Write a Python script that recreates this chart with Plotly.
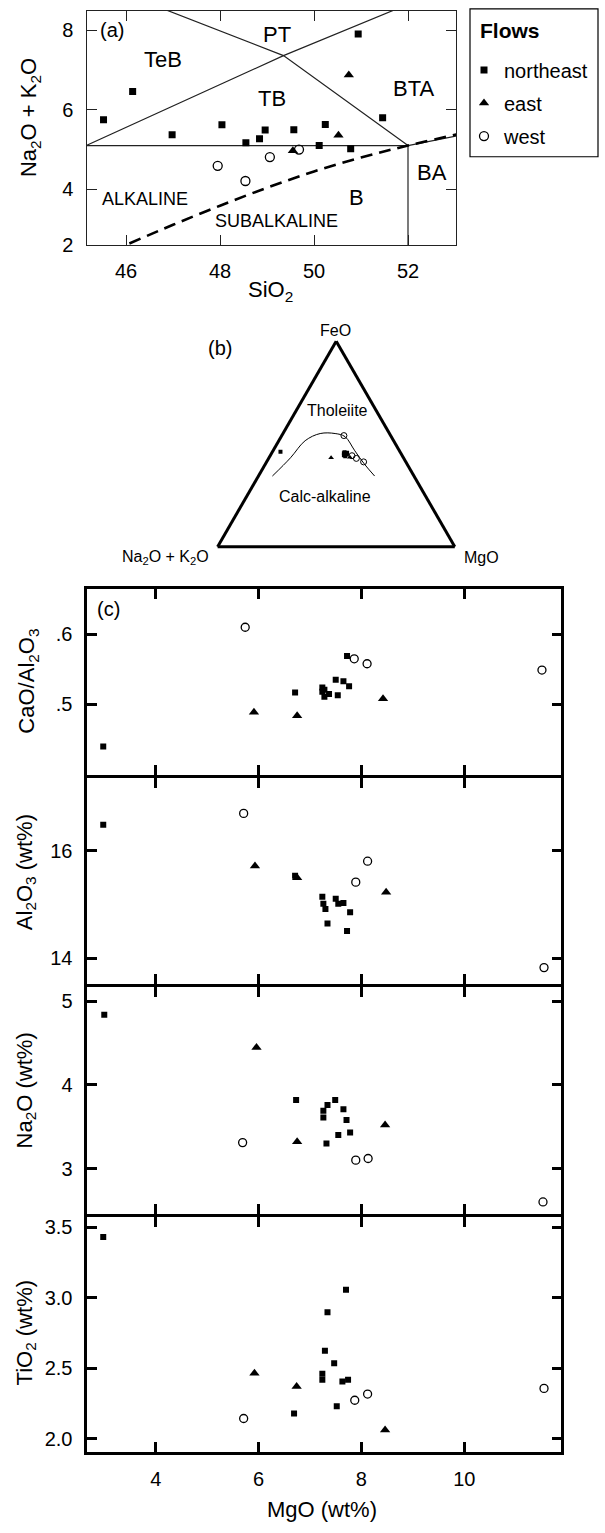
import plotly.graph_objects as go

FONT = "Liberation Sans, Arial, sans-serif"
W, H = 605, 1533

# ---------------- Panel (a): TAS diagram ----------------
tas_ne_sio2 = [45.52, 46.14, 46.98, 48.04, 48.55, 48.84, 48.96, 49.57, 50.11, 50.24, 50.78, 51.46, 50.94]
tas_ne_alk = [5.75, 6.46, 5.37, 5.62, 5.17, 5.27, 5.49, 5.50, 5.10, 5.63, 5.02, 5.80, 7.90]
tas_e_sio2 = [49.55, 50.52, 50.74]
tas_e_alk = [4.97, 5.36, 6.87]
tas_w_sio2 = [47.95, 48.54, 49.06, 49.68]
tas_w_alk = [4.59, 4.21, 4.81, 5.00]

# field boundaries (as drawn)
bnd_lower_x = [45.0, 52.0, 53.3]
bnd_lower_y = [5.1, 5.1, 5.4]
bnd_teb_x = [45.0, 49.35, 51.9]
bnd_teb_y = [5.02, 7.36, 8.6]
bnd_pt_x = [46.65, 49.35, 52.0]
bnd_pt_y = [8.6, 7.36, 5.1]
bnd_ba_x = [52.0, 52.0]
bnd_ba_y = [5.1, 2.5]
# alkaline / subalkaline divide (dashed)
alk_div_x = [46.07, 47.0, 48.0, 49.0, 50.0, 51.0, 52.0, 53.3]
alk_div_y = [2.64, 3.11, 3.59, 4.04, 4.45, 4.80, 5.10, 5.45]

tas_y_ticks = [2.6, 4, 6, 8]
tas_y_ticktext = ["2", "4", "6", "8"]

# ---------------- Panel (b): AFM ternary ----------------
# a = FeO, b = Na2O + K2O, c = MgO (percent)
afm_ne_feo = [46.2, 45.5, 44.5, 46.0, 45.0, 44.0, 45.8]
afm_ne_alk = [50.4, 24.0, 24.5, 23.5, 23.0, 24.2, 22.5]
afm_ne_mgo = [3.4, 30.5, 31.0, 30.5, 32.0, 31.8, 31.7]
afm_e_feo = [43.3, 44.5, 43.5]
afm_e_alk = [30.5, 24.0, 22.5]
afm_e_mgo = [26.2, 31.5, 34.0]
afm_w_feo = [54.1, 44.3, 43.0, 41.3]
afm_w_alk = [19.7, 21.2, 20.0, 17.8]
afm_w_mgo = [26.2, 34.5, 37.0, 40.9]
div_feo = [34.4, 43.3, 51.6, 55.1, 55.1, 53.6, 46.7, 40.3, 34.4]
div_alk = [59.7, 47.6, 37.3, 29.2, 22.9, 19.5, 18.8, 18.0, 16.6]
div_mgo = [5.9, 9.1, 11.1, 15.7, 22.0, 26.9, 34.5, 41.7, 49.0]

# ---------------- Panel (c): MgO variation diagrams ----------------
cao_ne_mgo = [2.98, 6.71, 7.72, 7.50, 7.65, 7.76, 7.24, 7.28, 7.24, 7.37, 7.28, 7.54]
cao_ne_val = [0.440, 0.517, 0.569, 0.535, 0.533, 0.526, 0.524, 0.521, 0.518, 0.515, 0.511, 0.513]
cao_e_mgo = [5.91, 6.75, 8.42]
cao_e_val = [0.489, 0.484, 0.508]
cao_w_mgo = [5.74, 7.86, 8.11, 11.51]
cao_w_val = [0.610, 0.565, 0.558, 0.549]

al_ne_mgo = [2.98, 6.71, 7.24, 7.26, 7.30, 7.50, 7.55, 7.65, 7.78, 7.34, 7.72]
al_ne_val = [16.49, 15.54, 15.15, 15.02, 14.92, 15.11, 15.02, 15.03, 14.86, 14.65, 14.51]
al_e_mgo = [5.93, 6.75, 8.48]
al_e_val = [15.72, 15.50, 15.23]
al_w_mgo = [5.71, 8.12, 7.89, 11.55]
al_w_val = [16.70, 15.81, 15.42, 13.83]

na_ne_mgo = [3.00, 6.73, 7.49, 7.34, 7.26, 7.26, 7.65, 7.71, 7.78, 7.55, 7.32]
na_ne_val = [4.84, 3.82, 3.82, 3.76, 3.69, 3.61, 3.71, 3.58, 3.43, 3.40, 3.30]
na_e_mgo = [5.96, 6.75, 8.46]
na_e_val = [4.45, 3.32, 3.52]
na_w_mgo = [5.69, 7.89, 8.13, 11.53]
na_w_val = [3.31, 3.10, 3.12, 2.60]

ti_ne_mgo = [2.98, 6.69, 7.70, 7.34, 7.29, 7.47, 7.24, 7.24, 7.63, 7.74, 7.52]
ti_ne_val = [3.43, 2.18, 3.056, 2.897, 2.624, 2.536, 2.461, 2.419, 2.407, 2.419, 2.232]
ti_e_mgo = [5.92, 6.74, 8.46]
ti_e_val = [2.466, 2.372, 2.063]
ti_w_mgo = [5.71, 7.87, 8.12, 11.55]
ti_w_val = [2.145, 2.274, 2.318, 2.358]

mgo_ticks = [4, 6, 8, 10]

# ---------------------------------------------------------
def px2x(p):
    return p / W

def py2y(p):
    return 1 - p / H

fig = go.Figure()

sq = dict(symbol="square", size=7, color="black")
tri = dict(symbol="triangle-up", size=9, color="black")
circ = dict(symbol="circle-open", size=9, color="black", line=dict(width=1.3, color="black"))

# boundaries in (a)
for bx, by in [(bnd_lower_x, bnd_lower_y), (bnd_teb_x, bnd_teb_y), (bnd_pt_x, bnd_pt_y), (bnd_ba_x, bnd_ba_y)]:
    fig.add_trace(go.Scatter(x=bx, y=by, mode="lines", line=dict(color="#222", width=1.2),
                             showlegend=False, hoverinfo="skip", xaxis="x", yaxis="y"))
fig.add_trace(go.Scatter(x=alk_div_x, y=alk_div_y, mode="lines",
                         line=dict(color="black", width=2.6, dash="12px,7px", shape="spline", smoothing=1.0),
                         showlegend=False, hoverinfo="skip", xaxis="x", yaxis="y"))

fig.add_trace(go.Scatter(x=tas_ne_sio2, y=tas_ne_alk, mode="markers", marker=sq, name="northeast",
                         legendgroup="ne", xaxis="x", yaxis="y"))
fig.add_trace(go.Scatter(x=tas_e_sio2, y=tas_e_alk, mode="markers", marker=tri, name="east",
                         legendgroup="e", xaxis="x", yaxis="y"))
fig.add_trace(go.Scatter(x=tas_w_sio2, y=tas_w_alk, mode="markers", marker=circ, name="west",
                         legendgroup="w", xaxis="x", yaxis="y"))

# ternary (b)
fig.add_trace(go.Scatterternary(a=div_feo, b=div_alk, c=div_mgo, mode="lines",
                                line=dict(color="black", width=1, shape="spline"), showlegend=False,
                                hoverinfo="skip"))
fig.add_trace(go.Scatterternary(a=afm_ne_feo, b=afm_ne_alk, c=afm_ne_mgo, mode="markers",
                                marker=dict(symbol="square", size=4, color="black"), showlegend=False))
fig.add_trace(go.Scatterternary(a=afm_e_feo, b=afm_e_alk, c=afm_e_mgo, mode="markers",
                                marker=dict(symbol="triangle-up", size=5, color="black"), showlegend=False))
fig.add_trace(go.Scatterternary(a=afm_w_feo, b=afm_w_alk, c=afm_w_mgo, mode="markers",
                                marker=dict(symbol="circle-open", size=6, color="black",
                                            line=dict(width=1, color="black")), showlegend=False))

# panel (c)
sq_c = dict(symbol="square", size=6, color="black")
tri_c = dict(symbol="triangle-up", size=9, color="black")
circ_c = dict(symbol="circle-open", size=8, color="black", line=dict(width=1.3, color="black"))
panels = [
    ("x2", "y2", cao_ne_mgo, cao_ne_val, cao_e_mgo, cao_e_val, cao_w_mgo, cao_w_val),
    ("x3", "y3", al_ne_mgo, al_ne_val, al_e_mgo, al_e_val, al_w_mgo, al_w_val),
    ("x4", "y4", na_ne_mgo, na_ne_val, na_e_mgo, na_e_val, na_w_mgo, na_w_val),
    ("x5", "y5", ti_ne_mgo, ti_ne_val, ti_e_mgo, ti_e_val, ti_w_mgo, ti_w_val),
]
for xa, ya, nx, ny, ex, ey, wx, wy in panels:
    fig.add_trace(go.Scatter(x=nx, y=ny, mode="markers", marker=sq_c, showlegend=False, xaxis=xa, yaxis=ya))
    fig.add_trace(go.Scatter(x=ex, y=ey, mode="markers", marker=tri_c, showlegend=False, xaxis=xa, yaxis=ya))
    fig.add_trace(go.Scatter(x=wx, y=wy, mode="markers", marker=circ_c, showlegend=False, xaxis=xa, yaxis=ya))

# ---------------- axes ----------------
LWA = 1.3
LWC = 2.6
ax_a = dict(showline=True, linecolor="#222", linewidth=LWA, mirror="allticks", ticks="inside",
            ticklen=10, tickwidth=LWA, tickcolor="#222", showgrid=False, zeroline=False,
            tickfont=dict(family=FONT, size=20, color="black"), ticklabelstandoff=8)
ax_c = dict(showline=True, linecolor="black", linewidth=LWC, mirror="allticks", ticks="inside",
            ticklen=10, tickwidth=LWC, tickcolor="black", showgrid=False, zeroline=False,
            tickfont=dict(family=FONT, size=20, color="black"), ticklabelstandoff=8)

h = LWC / 2
cx = [px2x(86 + h), px2x(562.7 - h)]
mg_range = [2.670, 11.888]

def dom(top_line, bottom_line):
    return [py2y(bottom_line - h), py2y(top_line + h)]

layout = dict(
    width=W, height=H, autosize=False, margin=dict(l=0, r=0, t=0, b=0),
    paper_bgcolor="white", plot_bgcolor="white",
    font=dict(family=FONT, color="black"),
    xaxis=dict(ax_a, domain=[px2x(86.6), px2x(456.4)], range=[45.16, 53.03], anchor="y",
               tickvals=[46, 48, 50, 52]),
    yaxis=dict(ax_a, domain=[py2y(246.0), py2y(10.1)], range=[2.6, 8.48], anchor="x",
               tickvals=tas_y_ticks, ticktext=tas_y_ticktext),
    xaxis2=dict(ax_c, domain=cx, range=mg_range, anchor="y2", tickvals=mgo_ticks, showticklabels=False),
    yaxis2=dict(ax_c, domain=dom(591.7, 781.7), range=[0.399, 0.664], anchor="x2",
                tickvals=[0.5, 0.6], ticktext=[".5", ".6"]),
    xaxis3=dict(ax_c, domain=cx, range=mg_range, anchor="y3", tickvals=mgo_ticks, showticklabels=False),
    yaxis3=dict(ax_c, domain=dom(781.7, 992.3), range=[13.52, 17.361], anchor="x3",
                tickvals=[14, 16]),
    xaxis4=dict(ax_c, domain=cx, range=mg_range, anchor="y4", tickvals=mgo_ticks, showticklabels=False),
    yaxis4=dict(ax_c, domain=dom(992.3, 1224), range=[2.454, 5.175], anchor="x4",
                tickvals=[3, 4, 5]),
    xaxis5=dict(ax_c, domain=cx, range=mg_range, anchor="y5", tickvals=mgo_ticks),
    yaxis5=dict(ax_c, domain=dom(1224, 1463.3), range=[1.911, 3.573], anchor="x5",
                tickvals=[2.0, 2.5, 3.0, 3.5], tickformat=".1f"),
    ternary=dict(
        domain=dict(x=[px2x(216.7), px2x(455.7)], y=[py2y(550), py2y(343)]),
        sum=100, bgcolor="white",
        aaxis=dict(showticklabels=False, ticks="", showgrid=False, showline=True, linewidth=3,
                   linecolor="black", title=dict(text="")),
        baxis=dict(showticklabels=False, ticks="", showgrid=False, showline=True, linewidth=3,
                   linecolor="black", title=dict(text="")),
        caxis=dict(showticklabels=False, ticks="", showgrid=False, showline=True, linewidth=3,
                   linecolor="black", title=dict(text="")),
    ),
    legend=dict(x=px2x(464), y=py2y(50), xanchor="left", yanchor="top",
                borderwidth=0, bgcolor="rgba(0,0,0,0)",
                font=dict(family=FONT, size=20, color="black"),
                tracegroupgap=4, itemwidth=30),
    shapes=[dict(type="rect", xref="paper", yref="paper",
                 x0=px2x(470), x1=px2x(598), y0=py2y(157), y1=py2y(8),
                 line=dict(color="black", width=1.2), fillcolor="rgba(0,0,0,0)", layer="above")],
)
fig.update_layout(**layout)

ann = []
def A(text, x, y, size, xref="paper", yref="paper", angle=0, xanchor="center", yanchor="middle"):
    ann.append(dict(text=text, x=x, y=y, xref=xref, yref=yref, showarrow=False, textangle=angle,
                    xanchor=xanchor, yanchor=yanchor, font=dict(family=FONT, size=size, color="black")))

# legend title
A("<b>Flows</b>", px2x(478), py2y(30), 21, xanchor="left")
# panel (a) labels in data space
A("(a)", 45.41, 8.0, 20, "x", "y", xanchor="left")
A("PT", 49.21, 7.90, 22, "x", "y")
A("TeB", 46.79, 7.26, 22, "x", "y")
A("TB", 49.10, 6.27, 22, "x", "y")
A("BTA", 52.11, 6.54, 22, "x", "y")
A("BA", 52.52, 4.43, 22, "x", "y")
A("B", 50.91, 3.79, 22, "x", "y")
A("ALKALINE", 46.41, 3.75, 18, "x", "y")
A("SUBALKALINE", 49.20, 3.21, 18, "x", "y")
# axis titles (a)
A("SiO<sub>2</sub>", px2x(270), py2y(292), 22)
A("Na<sub>2</sub>O + K<sub>2</sub>O", px2x(30), py2y(118), 22, angle=-90)
# panel (b)
A("(b)", px2x(219.5), py2y(350), 20)
A("FeO", px2x(335), py2y(332), 16)
A("Na<sub>2</sub>O + K<sub>2</sub>O", px2x(211), py2y(561), 16, xanchor="right")
A("MgO", px2x(462), py2y(561), 16, xanchor="left")
A("Tholeiite", px2x(337.5), py2y(413), 16)
A("Calc-alkaline", px2x(325), py2y(499), 16)
# panel (c)
A("(c)", px2x(95), py2y(613), 20, xanchor="left")
A("CaO/Al<sub>2</sub>O<sub>3</sub>", px2x(28), py2y(686), 22, angle=-90)
A("Al<sub>2</sub>O<sub>3</sub> (wt%)", px2x(26), py2y(878), 22, angle=-90)
A("Na<sub>2</sub>O (wt%)", px2x(26), py2y(1098), 22, angle=-90)
A("TiO<sub>2</sub> (wt%)", px2x(26), py2y(1342), 22, angle=-90)
A("MgO (wt%)", px2x(322), py2y(1520), 22)

fig.update_layout(annotations=ann)
fig.write_html("out.html")
